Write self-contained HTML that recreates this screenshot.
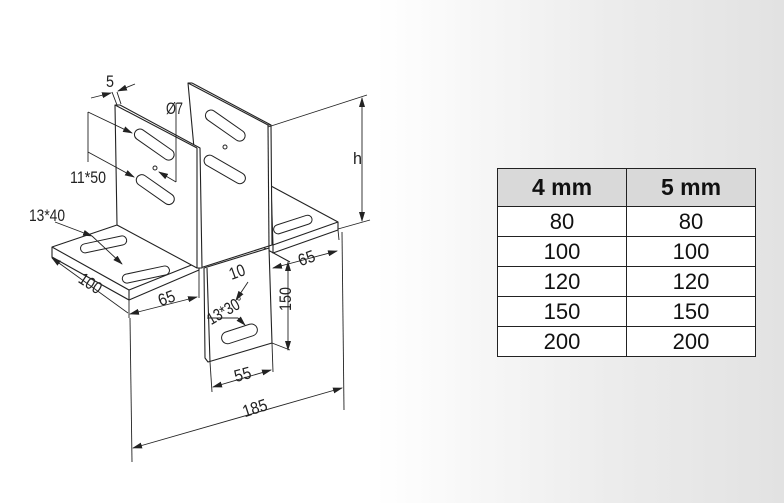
<!DOCTYPE html>
<html><head><meta charset="utf-8"><style>
html,body{margin:0;padding:0}
body{width:784px;height:503px;overflow:hidden;position:relative;background:linear-gradient(90deg,#fff 0%,#fff 48%,#ececec 78%,#e2e2e2 100%);font-family:"Liberation Sans","DejaVu Sans",sans-serif}
svg{position:absolute;left:0;top:0}
table{position:absolute;left:497px;top:168px;border-collapse:collapse;width:259px}
td{border:1px solid #222;text-align:center;font-size:22px;color:#111;padding:0;height:29px;line-height:29px;background:#fff;width:128px}
tr.h td{background:#d9d9d9;font-weight:bold;height:37px;line-height:37px;font-size:23px}
</style></head><body>
<svg width="784" height="503" viewBox="0 0 784 503" font-family="Liberation Sans, sans-serif" font-size="17" fill="#222">
<defs><marker id="a" markerWidth="10" markerHeight="6" refX="9" refY="3" orient="auto-start-reverse" markerUnits="userSpaceOnUse"><path d="M0,0 L10,3 L0,6z" fill="#222"/></marker></defs>
<g stroke="#222" stroke-width="1.1" fill="#fff" stroke-linejoin="round">
<polygon points="271,186 338,222 338,230 273,253 273,245"/>
<line x1="273" y1="245" x2="338" y2="222"/>
<line x1="200" y1="213" x2="290" y2="262" fill="none"/>
<polygon points="188,83 268,125 271,125 272,245 200,268 200,213"/>
<line x1="188" y1="83" x2="192" y2="83"/>
<line x1="192" y1="83" x2="271" y2="125"/>
<line x1="268" y1="125" x2="269" y2="248"/>
<polygon points="204,268 269,248 272,343 208,362 205,358"/>
<line x1="207" y1="268" x2="210" y2="362"/>
<polygon points="52,247 117,225 199,262 199,270 129,300 52,257"/>
<line x1="52" y1="247" x2="129" y2="290"/>
<line x1="129" y1="290" x2="199" y2="262"/>
<line x1="129" y1="290" x2="129" y2="300"/>
<polygon points="115,105 120,105 200,148 202,268 197,268 117,225"/>
<line x1="115" y1="105" x2="197" y2="148"/>
<line x1="197" y1="148" x2="197" y2="268"/>
<g stroke-width="1">
<rect x="131" y="139" width="46" height="11" rx="5.5" transform="rotate(35 154 145)"/>
<rect x="133" y="184" width="44" height="11" rx="5.5" transform="rotate(35 155 190)"/>
<rect x="202" y="120" width="46" height="11" rx="5.5" transform="rotate(35 225 126)"/>
<rect x="202" y="164" width="46" height="11" rx="5.5" transform="rotate(30 225 169)"/>
<rect x="80" y="240" width="47" height="9" rx="4.5" transform="rotate(-12 103 244)"/>
<rect x="122" y="270" width="48" height="9" rx="4.5" transform="rotate(-12 146 275)"/>
<rect x="273" y="220" width="40" height="9" rx="4.5" transform="rotate(-18 293 225)"/>
<rect x="221" y="328" width="37" height="12" rx="6" transform="rotate(-18 239 334)"/>
<circle cx="155" cy="168" r="2"/><circle cx="225" cy="147" r="2"/>
</g>
</g>
<g stroke="#222" stroke-width="0.9" fill="none">
<line x1="112" y1="92" x2="117" y2="105"/><line x1="117" y1="92" x2="121" y2="104"/>
<line x1="91" y1="98" x2="111" y2="93" marker-end="url(#a)"/><line x1="135" y1="84" x2="118" y2="91" marker-end="url(#a)"/>
<line x1="176" y1="103" x2="176" y2="182"/><line x1="176" y1="182" x2="159" y2="172" marker-end="url(#a)"/>
<line x1="88" y1="112" x2="88" y2="162"/>
<line x1="88" y1="112" x2="132" y2="133" marker-end="url(#a)"/><line x1="88" y1="152" x2="134" y2="177" marker-end="url(#a)"/>
<line x1="55" y1="222" x2="92" y2="236" marker-end="url(#a)"/><line x1="92" y1="236" x2="122" y2="264" marker-end="url(#a)"/>
<line x1="52" y1="258" x2="128" y2="313" marker-start="url(#a)"/>
<line x1="129" y1="300" x2="129" y2="318"/><line x1="199" y1="270" x2="199" y2="298"/>
<line x1="130" y1="314" x2="197" y2="297" marker-start="url(#a)" marker-end="url(#a)"/>
<line x1="268" y1="127" x2="367" y2="95"/><line x1="338" y1="229" x2="370" y2="220"/>
<line x1="362" y1="98" x2="362" y2="221" marker-start="url(#a)" marker-end="url(#a)"/>
<line x1="338" y1="230" x2="339" y2="240"/>
<line x1="273" y1="268" x2="337" y2="251" marker-start="url(#a)" marker-end="url(#a)"/>
<line x1="272" y1="343" x2="290" y2="350"/>
<line x1="288" y1="262" x2="288" y2="350" marker-start="url(#a)" marker-end="url(#a)"/>
<line x1="248" y1="282" x2="236" y2="300" marker-end="url(#a)"/>
<line x1="207" y1="318" x2="238" y2="318"/><line x1="238" y1="318" x2="245" y2="325" marker-end="url(#a)"/>
<line x1="210" y1="362" x2="212" y2="392"/><line x1="272" y1="343" x2="273" y2="372"/>
<line x1="213" y1="387" x2="271" y2="370" marker-start="url(#a)" marker-end="url(#a)"/>
<line x1="130" y1="318" x2="132" y2="462"/><line x1="342" y1="232" x2="344" y2="410"/>
<line x1="133" y1="448" x2="342" y2="388" marker-start="url(#a)" marker-end="url(#a)"/>
</g>
<g lengthAdjust="spacingAndGlyphs">
<text x="106" y="87" textLength="8" lengthAdjust="spacingAndGlyphs">5</text>
<text x="166" y="114" textLength="17" lengthAdjust="spacingAndGlyphs">Ø7</text>
<text x="70" y="183" textLength="36" lengthAdjust="spacingAndGlyphs">11*50</text>
<text x="29" y="221" textLength="36" lengthAdjust="spacingAndGlyphs">13*40</text>
<text x="78" y="289" textLength="24" lengthAdjust="spacingAndGlyphs" transform="rotate(33 90 284)">100</text>
<text x="158" y="304" textLength="17" lengthAdjust="spacingAndGlyphs" transform="rotate(-20 166 298)">65</text>
<text x="298" y="264" textLength="17" lengthAdjust="spacingAndGlyphs" transform="rotate(-20 306 258)">65</text>
<text x="353" y="164" textLength="9" lengthAdjust="spacingAndGlyphs">h</text>
<text x="229" y="278" textLength="16" lengthAdjust="spacingAndGlyphs" transform="rotate(-20 236 272)">10</text>
<text x="206" y="318" textLength="40" lengthAdjust="spacingAndGlyphs" transform="rotate(-30 222 312)">13*30°</text>
<text x="274" y="306" textLength="24" lengthAdjust="spacingAndGlyphs" transform="rotate(-90 285 300)">150</text>
<text x="234" y="380" textLength="17" lengthAdjust="spacingAndGlyphs" transform="rotate(-15 243 374)">55</text>
<text x="242" y="414" textLength="25" lengthAdjust="spacingAndGlyphs" transform="rotate(-18 254 407)">185</text>
</g>
</svg>
<table>
<tr class="h"><td>4 mm</td><td>5 mm</td></tr>
<tr><td>80</td><td>80</td></tr>
<tr><td>100</td><td>100</td></tr>
<tr><td>120</td><td>120</td></tr>
<tr><td>150</td><td>150</td></tr>
<tr><td>200</td><td>200</td></tr>
</table>
</body></html>
